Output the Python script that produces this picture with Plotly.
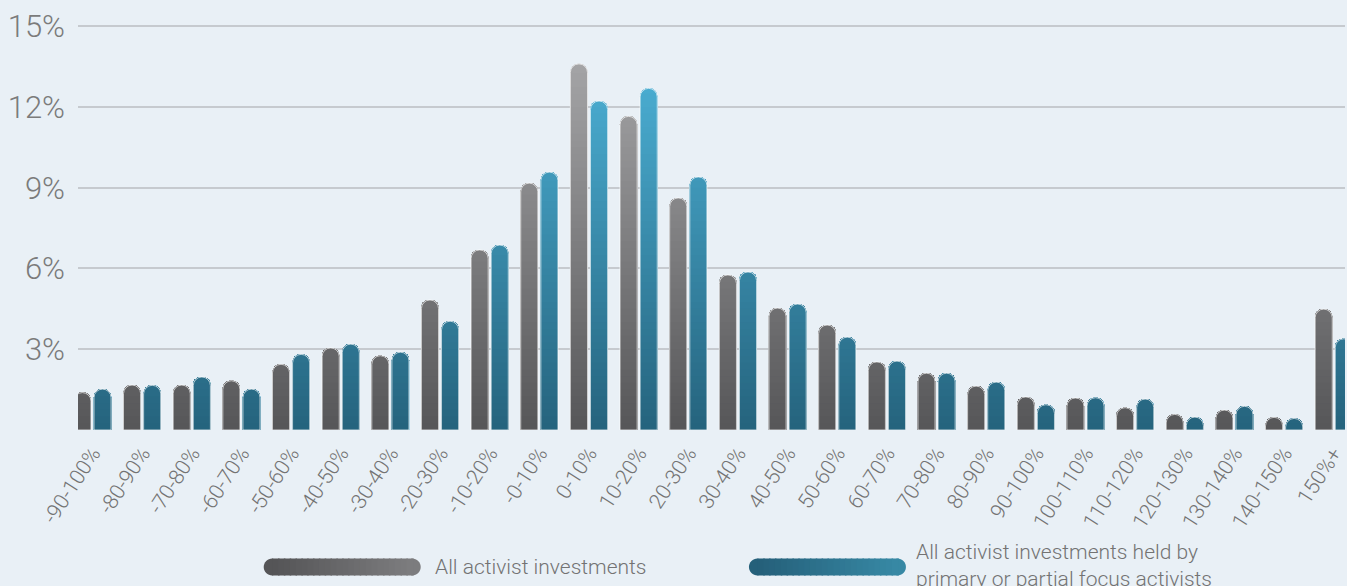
import numpy as np
import plotly.graph_objects as go

# return buckets on the x axis
buckets = ['-90-100%', '-80-90%', '-70-80%', '-60-70%', '-50-60%', '-40-50%', '-30-40%',
           '-20-30%', '-10-20%', '-0-10%', '0-10%', '10-20%', '20-30%', '30-40%', '40-50%',
           '50-60%', '60-70%', '70-80%', '80-90%', '90-100%', '100-110%', '110-120%',
           '120-130%', '130-140%', '140-150%', '150%+']

# share of investments in each bucket (%)
all_inv = [1.39, 1.67, 1.67, 1.83, 2.44, 3.05, 2.76, 4.83, 6.69, 9.17, 13.6, 11.65, 8.62,
           5.76, 4.53, 3.90, 2.53, 2.11, 1.63, 1.23, 1.19, 0.83, 0.58, 0.74, 0.47, 4.49]
focus_inv = [1.52, 1.66, 1.97, 1.52, 2.81, 3.19, 2.89, 4.04, 6.87, 9.58, 12.22, 12.69, 9.40,
             5.87, 4.68, 3.45, 2.56, 2.11, 1.78, 0.94, 1.20, 1.15, 0.48, 0.88, 0.43, 3.39]

y_ticks = [3, 6, 9, 12, 15]
y_labels = ['3%', '6%', '9%', '12%', '15%']

legend_names = ['All activist investments',
                'All activist investments held by<br>primary or partial focus activists']

BG = '#e9f0f6'
TXT = '#737373'
FONT = 'Roboto'

# vertical gradients (colour at 0% and at 15%)
grey_lo, grey_hi = np.array([86, 86, 88]), np.array([172, 172, 174])
teal_lo, teal_hi = np.array([37, 99, 125]), np.array([80, 184, 222])


def grad(lo, hi, v):
    t = min(max(v / 15.0, 0), 1)
    c = lo + (hi - lo) * t
    return 'rgb(%d,%d,%d)' % tuple(c.round())


fig = go.Figure()

step = 0.25
levels = np.arange(14.0, 0, -step)
for vals, lo, hi, off in [(all_inv, grey_lo, grey_hi, -0.375), (focus_inv, teal_lo, teal_hi, 0.03)]:
    vals = np.array(vals)
    # stacked layers, clipped at each level, give the shared vertical gradient
    for lev in levels:
        fig.add_trace(go.Bar(
            x=buckets, y=np.minimum(vals, lev), offset=off, width=0.345,
            marker=dict(color=grad(lo, hi, lev - step / 2), cornerradius='50%', line=dict(width=0)),
            cliponaxis=False, showlegend=False, hoverinfo='skip'))
    # thin white rim
    fig.add_trace(go.Bar(
        x=buckets, y=vals, offset=off, width=0.345,
        marker=dict(color='rgba(0,0,0,0)', cornerradius='50%',
                    line=dict(color='rgba(255,255,255,0.7)', width=1)),
        cliponaxis=False, showlegend=False, hoverinfo='skip'))

# legend: pill shapes with horizontal gradient + text
W, H = 1347, 586
L, R, T, B = 78, 0, 10, 156
pw, ph = W - L - R, H - T - B


def px_x(x):
    return (x - L) / pw


def px_y(y):
    return (H - B - y) / ph


def pill(x0, x1, yc, c0, c1, n=24):
    r = 8.5
    k = 0.5523 * r
    ln = x1 - x0
    cols = [c0 + (c1 - c0) * i / (n - 1) for i in range(n)]
    col = lambda c: 'rgb(%d,%d,%d)' % tuple(np.round(c))
    common = dict(xref='paper', yref='paper', xsizemode='pixel', ysizemode='pixel',
                  xanchor=px_x(x0), yanchor=px_y(yc), line=dict(width=0), layer='above')
    # left cap
    fig.add_shape(type='path', fillcolor=col(cols[0]),
                  path=f'M {r+1},{r} L {r},{r} C {r-k},{r} 0,{k} 0,0 C 0,{-k} {r-k},{-r} {r},{-r} L {r+1},{-r} Z',
                  **common)
    # right cap
    fig.add_shape(type='path', fillcolor=col(cols[-1]),
                  path=f'M {ln-r-1},{r} L {ln-r},{r} C {ln-r+k},{r} {ln},{k} {ln},0 C {ln},{-k} {ln-r+k},{-r} {ln-r},{-r} L {ln-r-1},{-r} Z',
                  **common)
    seg = (ln - 2 * r) / n
    for i in range(n):
        a = r + i * seg
        b = a + seg + 1.5
        fig.add_shape(type='path', fillcolor=col(cols[i]),
                      path=f'M {a},{r} L {b},{r} L {b},{-r} L {a},{-r} Z', **common)


pill(264, 421, 567, np.array([85, 85, 87]), np.array([124, 124, 126]))
pill(750, 907, 567, np.array([37, 96, 122]), np.array([55, 136, 164]))

fig.add_annotation(x=px_x(434), y=px_y(567), xref='paper', yref='paper', text=legend_names[0],
                   showarrow=False, xanchor='left', yanchor='middle',
                   font=dict(family=FONT, size=21, color=TXT, weight=300))
fig.add_annotation(x=px_x(915), y=px_y(565), xref='paper', yref='paper', text=legend_names[1],
                   showarrow=False, xanchor='left', yanchor='middle', align='left',
                   font=dict(family=FONT, size=21, color=TXT, weight=300))

x_lo = (L - 92.5) / 49.73
fig.update_layout(
    width=W, height=H, barmode='overlay',
    margin=dict(l=L, r=R, t=T, b=B),
    paper_bgcolor=BG, plot_bgcolor=BG,
    showlegend=False,
    xaxis=dict(type='category', range=[x_lo, x_lo + pw / 49.73], showgrid=False, zeroline=False,
               showline=False, ticks='', tickangle=-57, ticklabelstandoff=6,
               tickfont=dict(family=FONT, size=21, color=TXT, weight=300)),
    yaxis=dict(range=[0, 15.6], tickvals=y_ticks, ticktext=y_labels,
               showgrid=True, gridcolor='#c6cacf', gridwidth=1.5, zeroline=False, showline=False,
               ticklabelstandoff=12,
               tickfont=dict(family=FONT, size=31, color='#7b7b7b', weight=300)),
)

fig.write_html('out.html', config={'displayModeBar': False},
               post_script="document.body.style.margin='0';document.body.style.overflow='hidden';"
                           "document.body.style.background='" + BG + "';")
